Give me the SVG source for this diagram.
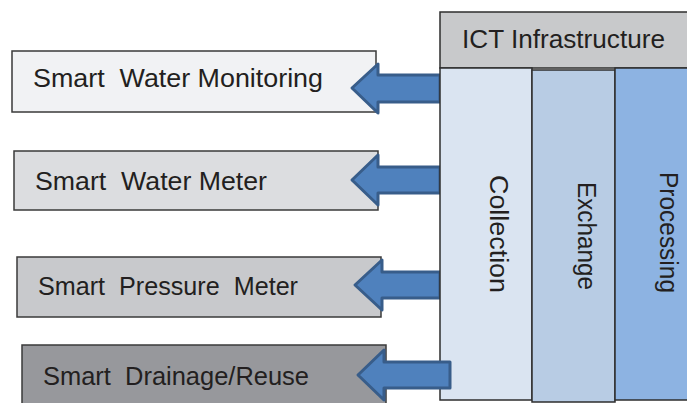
<svg xmlns="http://www.w3.org/2000/svg" width="687" height="403" viewBox="0 0 687 403">
  <style>
    .box { stroke: #3a3a3a; stroke-width: 1.5; }
    .lbl { font-family: "Liberation Sans", Arial, sans-serif; font-size: 26px; fill: #231f20; }
    .arrow { fill: #4f81bd; stroke: #385d8a; stroke-width: 3; stroke-linejoin: round; }
    .col { stroke: #2e2e2e; stroke-width: 1.5; }
  </style>
  <rect width="687" height="403" fill="#ffffff"/>

  <!-- Application boxes -->
  <g id="smart-water-monitoring">
    <rect class="box" x="12" y="51" width="364" height="61" fill="#f1f2f4"/>
    <text class="lbl" x="33" y="87" textLength="290" lengthAdjust="spacingAndGlyphs" xml:space="preserve">Smart  Water Monitoring</text>
  </g>
  <g id="smart-water-meter">
    <rect class="box" x="14" y="151" width="364" height="59" fill="#dcdde0"/>
    <text class="lbl" x="35" y="190" textLength="232" lengthAdjust="spacingAndGlyphs" xml:space="preserve">Smart  Water Meter</text>
  </g>
  <g id="smart-pressure-meter">
    <rect class="box" x="17" y="257" width="364" height="60" fill="#c8c9cc"/>
    <text class="lbl" x="38" y="295" textLength="260" lengthAdjust="spacingAndGlyphs" xml:space="preserve">Smart  Pressure  Meter</text>
  </g>
  <g id="smart-drainage-reuse">
    <rect class="box" x="22" y="345" width="364" height="62" fill="#97989c"/>
    <text class="lbl" x="43" y="385" textLength="266" lengthAdjust="spacingAndGlyphs" xml:space="preserve">Smart  Drainage/Reuse</text>
  </g>

  <!-- Connectors (first three sit behind the infrastructure block) -->
  <g id="connectors-back">
    <polygon class="arrow" points="352,88 378,64 378,75 440,75 440,102 378,102 378,113"/>
    <polygon class="arrow" points="352,180 378,155 378,167 440,167 440,193 378,193 378,205"/>
    <polygon class="arrow" points="355,285 382,260 382,272 440,272 440,298 382,298 382,310"/>
  </g>

  <!-- ICT infrastructure block -->
  <g id="ict-infrastructure">
    <rect class="col" x="440" y="12" width="250" height="56" fill="#c8c9cb"/>
    <text class="lbl" x="462" y="48" textLength="203" lengthAdjust="spacingAndGlyphs">ICT Infrastructure</text>
  </g>
  <g id="collection">
    <rect class="col" x="440" y="68" width="92" height="332" fill="#dae4f1"/>
    <text class="lbl" transform="translate(490,175) rotate(90)" textLength="118" lengthAdjust="spacingAndGlyphs">Collection</text>
  </g>
  <g id="exchange">
    <rect class="col" x="532" y="70" width="83" height="332" fill="#b8cce4"/>
    <text class="lbl" transform="translate(578,182) rotate(90)" textLength="108" lengthAdjust="spacingAndGlyphs">Exchange</text>
  </g>
  <g id="processing">
    <rect class="col" x="615" y="68" width="75" height="332" fill="#8db3e2"/>
    <text class="lbl" transform="translate(660,172) rotate(90)" textLength="121" lengthAdjust="spacingAndGlyphs">Processing</text>
  </g>

  <g id="connectors-front">
    <polygon class="arrow" points="358,375 384,350 384,362 450,362 450,388 384,388 384,400"/>
  </g>
</svg>
